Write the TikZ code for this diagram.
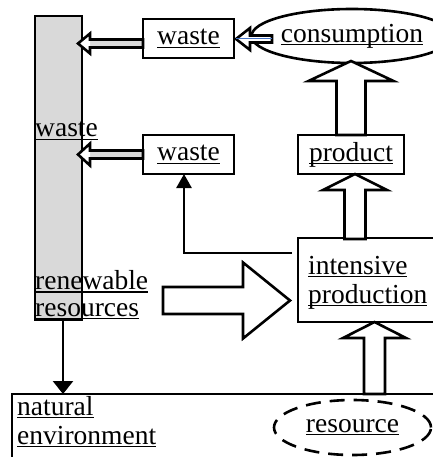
\documentclass[tikz,border=0pt]{standalone}
\usepackage{fontspec}
\setmainfont{Liberation Serif}
\usetikzlibrary{calc,shapes.geometric,arrows.meta}
\newcommand\ulx[1]{\setbox0\hbox{#1}\rlap{\rule[-3pt]{\wd0}{1.2pt}}\box0}
% #1 shaft fill, #2 base, #3 tip, #4 shaft half width, #5 head half width, #6 head length
\newcommand\blockarr[6]{%
  \coordinate (baH) at ($(#3)!#6!(#2)$);
  \fill[#1] ($(#2)!#4!90:(#3)$) -- ($(baH)!#4!90:(#3)$) -- ($(baH)!#4!-90:(#3)$) -- ($(#2)!#4!-90:(#3)$) -- cycle;
  \fill[white] ($(baH)!#5!90:(#3)$) -- (#3) -- ($(baH)!#5!-90:(#3)$) -- cycle;
  \draw[blkline] ($(#2)!#4!90:(#3)$) -- ($(baH)!#4!90:(#3)$) -- ($(baH)!#5!90:(#3)$) -- (#3)
     -- ($(baH)!#5!-90:(#3)$) -- ($(baH)!#4!-90:(#3)$) -- ($(#2)!#4!-90:(#3)$) -- cycle;
}
\definecolor{barfill}{RGB}{217,217,217}
\definecolor{ublue}{RGB}{68,114,196}
\tikzset{
  lw/.style={line width=2.6pt},
  blkline/.style={line width=2.6pt, line join=miter},
  box/.style={draw, lw, rectangle, inner sep=0pt, fill=white},
  lbl/.style={inner sep=0pt, anchor=base west, align=left},
}
\begin{document}
\begin{tikzpicture}[x=1pt,y=-1pt,font=\fontsize{27.5}{29}\selectfont]
\useasboundingbox (0,0) rectangle (432,457);
% gray bar
\node[box, fill=barfill, minimum width=47pt, minimum height=304pt] (bar) at (58.5,168) {};
% boxes
\node[box, minimum width=91pt, minimum height=39pt] (w1) at (188.5,38.5) {\ulx{waste}};
\node[box, minimum width=91pt, minimum height=39pt] (w2) at (188.5,154.5) {\ulx{waste}};
\node[box, minimum width=106pt, minimum height=39pt] (prod) at (351,154.5) {\ulx{product}};
\node[draw, lw, ellipse, inner sep=0pt, minimum width=160pt, minimum height=54pt, fill=white] (cons) at (352,36) {\ulx{consumption}};
\node[box, minimum width=138pt, minimum height=84pt] (ip) at (367,280) {};
\node[lbl] (iptxt) at (308,303) {\ulx{intensive}\\[0pt]\ulx{production}};
% natural environment
\coordinate (envtl) at (12,394);
\coordinate (envtr) at (440,394);
\coordinate (envbl) at (12,460);
\draw[lw] (envtr) -- (envtl) -- (envbl);
\node[lbl] (envtxt) at (17,444) {\ulx{natural}\\[0pt]\ulx{environment}};
\node[draw, lw, dash pattern=on 15pt off 9pt, ellipse, inner sep=0pt, minimum width=157pt, minimum height=55pt] (res) at (352.5,427.5) {\ulx{resource}};
% bar labels
\node[lbl] (barw) at (35,137) {\ulx{waste}};
\node[lbl, font=\fontsize{27.5}{26.5}\selectfont] (barr) at (35,316) {\ulx{renewable}\\\ulx{resources}};
% block arrows
\coordinate (a1b) at (351,135); \coordinate (a1t) at (351,61);
\blockarr{white}{a1b}{a1t}{14.5pt}{42.5pt}{20pt}
\coordinate (a2b) at (355,239); \coordinate (a2t) at (355,174);
\blockarr{white}{a2b}{a2t}{10.5pt}{32pt}{16pt}
\coordinate (a3b) at (374.5,394); \coordinate (a3t) at (374.5,322);
\blockarr{white}{a3b}{a3t}{10.5pt}{31.5pt}{16pt}
\coordinate (a4b) at (163,300.5); \coordinate (a4t) at (290,300.5);
\blockarr{white}{a4b}{a4t}{13.5pt}{38pt}{47pt}
\coordinate (a5b) at (143,43.5); \coordinate (a5t) at (78,43.5);
\blockarr{barfill}{a5b}{a5t}{4pt}{10pt}{12pt}
\coordinate (a6b) at (143,154.5); \coordinate (a6t) at (78,154.5);
\blockarr{barfill}{a6b}{a6t}{4pt}{11pt}{12pt}
\coordinate (a7b) at (272,39); \coordinate (a7t) at (236,39);
\blockarr{white}{a7b}{a7t}{3.5pt}{11pt}{14pt}
\draw[ublue, line width=1pt] (a7b) -- (a7t);
% line from intensive production to waste 2
\coordinate (ipl) at (292,253);
\coordinate (corner) at (184,253);
\draw[lw, -{Triangle[width=15pt,length=14pt]}] (ipl) -- (corner) -- (184,174);
% bar to environment
\draw[lw, -{Triangle[width=20pt,length=13pt]}] (bar.south -| 63,0) -- (63,394);
\end{tikzpicture}
\end{document}
